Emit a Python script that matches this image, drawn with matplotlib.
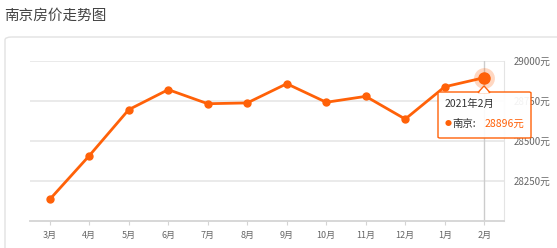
import matplotlib
matplotlib.use("Agg")
import matplotlib.pyplot as plt
from matplotlib.patches import FancyBboxPatch, Polygon

plt.rcParams['font.family'] = ['Noto Sans CJK SC', 'DejaVu Sans']

months = ['3月', '4月', '5月', '6月', '7月', '8月', '9月', '10月', '11月', '12月', '1月', '2月']
prices = [28135, 28408, 28696, 28821, 28733, 28738, 28858, 28742, 28779, 28637, 28839, 28896]
yticks = [28250, 28500, 28750, 29000]
tip_title = '2021年2月'
city = '南京'

W, H = 557, 248
orange = '#ff6108'
grey_txt = '#666666'

fig = plt.figure(figsize=(W / 100, H / 100), dpi=100)

def fx(px):
    return px / W

def fy(py):
    return 1 - py / H

fig.text(fx(4), fy(16), '南京房价走势图', fontsize=10.5, color='#444444',
         va='center', ha='left')

panel = FancyBboxPatch((fx(5), fy(260)), fx(600) - fx(5), fy(37) - fy(260),
                       boxstyle='round,pad=0,rounding_size=0.012',
                       transform=fig.transFigure, facecolor='white',
                       edgecolor='#e2e2e2', linewidth=1.0, zorder=-5)
fig.patches.append(panel)

ax = fig.add_axes([fx(30), fy(221), fx(504) - fx(30), fy(61) - fy(221)])
ax.set_facecolor('none')
x = list(range(len(months)))
ax.set_xlim(-0.5, len(months) - 0.5)
ax.set_ylim(28000, 29000)

for v in yticks:
    ax.axhline(v, color='#e8e8e8', lw=1.3, zorder=0)

ax.axvline(x[-1], color='#cccccc', lw=1.0, zorder=1)

ax.plot(x, prices, color=orange, lw=2.0, marker='o', markersize=5, zorder=3)
ax.plot(x[-1], prices[-1], 'o', color=orange, markersize=15, alpha=0.25,
        markeredgewidth=0, zorder=4)
ax.plot(x[-1], prices[-1], 'o', color=orange, markersize=8, zorder=5)

for s in ['left', 'top']:
    ax.spines[s].set_visible(False)
ax.spines['right'].set_color('#e4e4e4')
ax.spines['bottom'].set_color('#d4d4d4')
ax.spines['bottom'].set_linewidth(1.3)

ax.set_xticks(x)
ax.set_xticklabels(months)
ax.yaxis.tick_right()
ax.set_yticks(yticks)
ax.set_yticklabels([f'{v}元' for v in yticks])
ax.tick_params(axis='x', length=3, width=0.8, color='#d4d4d4', labelsize=6.5,
               labelcolor=grey_txt, pad=4)
ax.tick_params(axis='y', length=0, labelsize=7, labelcolor=grey_txt, pad=7)

# tooltip
tip = FancyBboxPatch((fx(438), fy(138)), fx(531) - fx(438), fy(92) - fy(138),
                     boxstyle='round,pad=0,rounding_size=0.004',
                     transform=fig.transFigure, facecolor=(1, 1, 1, 0.92),
                     edgecolor=orange, linewidth=1.0, zorder=10)
fig.patches.append(tip)
tri = Polygon([(fx(478), fy(92.5)), (fx(484), fy(86)), (fx(490), fy(92.5))],
              closed=True, transform=fig.transFigure, facecolor='white',
              edgecolor=orange, linewidth=1.0, zorder=11)
fig.patches.append(tri)
fig.patches.append(Polygon([(fx(479), fy(93)), (fx(484), fy(87.5)), (fx(489), fy(93))],
                           closed=True, transform=fig.transFigure, facecolor='white',
                           edgecolor='none', zorder=12))
fig.text(fx(445), fy(104), tip_title, fontsize=7.5, color='#333333',
         va='center', ha='left', zorder=13)
fig.text(fx(445), fy(124), '●', fontsize=5, color=orange, va='center',
         ha='left', zorder=13)
fig.text(fx(452), fy(124), city + ':', fontsize=7.5, color='#333333',
         va='center', ha='left', zorder=13)
fig.text(fx(485), fy(124), f'{prices[-1]}元', fontsize=7.5, color=orange,
         va='center', ha='left', zorder=13)

fig.savefig('out.png', dpi=100)
